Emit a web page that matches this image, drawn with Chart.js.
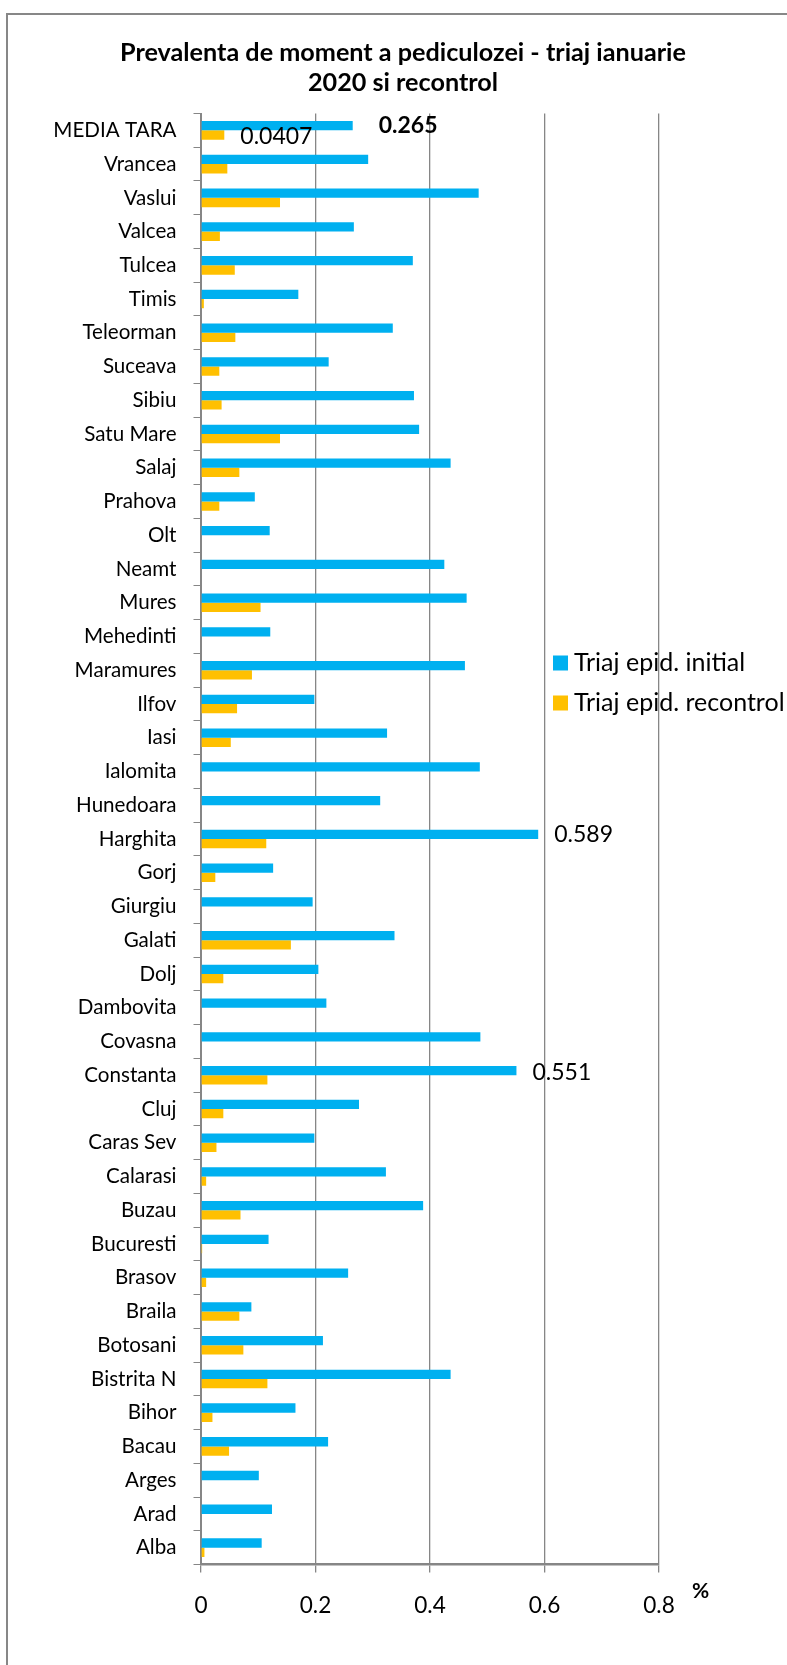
<!DOCTYPE html>
<html>
<head>
<meta charset="utf-8">
<script src="https://cdn.jsdelivr.net/npm/chart.js@4.4.1/dist/chart.umd.min.js"></script>
<style>
  html, body { margin: 0; padding: 0; background: #fff; }
  #wrap { position: relative; width: 787px; height: 1665px; overflow: hidden; }
  #frame { position: absolute; left: 6px; top: 13px; width: 1000px; height: 2000px; border: 2px solid #878787; }
  #chart { position: absolute; left: 0; top: 0; }
</style>
</head>
<body>
<div id="wrap">
  <div id="frame"></div>
  <canvas id="chart" width="787" height="1665"></canvas>
</div>
<script>
// counties, top to bottom
const counties = [
  "MEDIA TARA", "Vrancea", "Vaslui", "Valcea", "Tulcea", "Timis", "Teleorman",
  "Suceava", "Sibiu", "Satu Mare", "Salaj", "Prahova", "Olt", "Neamt", "Mures",
  "Mehedinti", "Maramures", "Ilfov", "Iasi", "Ialomita", "Hunedoara", "Harghita",
  "Gorj", "Giurgiu", "Galati", "Dolj", "Dambovita", "Covasna", "Constanta", "Cluj",
  "Caras Sev", "Calarasi", "Buzau", "Bucuresti", "Brasov", "Braila", "Botosani",
  "Bistrita N", "Bihor", "Bacau", "Arges", "Arad", "Alba"
];

// prevalence %, initial screening
const initial = [
  0.265, 0.292, 0.485, 0.267, 0.370, 0.170, 0.335,
  0.223, 0.372, 0.381, 0.436, 0.094, 0.120, 0.425, 0.464,
  0.121, 0.461, 0.198, 0.325, 0.487, 0.313, 0.589,
  0.126, 0.195, 0.338, 0.205, 0.219, 0.488, 0.551, 0.276,
  0.198, 0.323, 0.388, 0.118, 0.257, 0.088, 0.213,
  0.436, 0.165, 0.222, 0.101, 0.124, 0.106
];

// prevalence %, re-check (null = no re-check data)
const recontrol = [
  0.0407, 0.046, 0.138, 0.033, 0.059, 0.005, 0.060,
  0.032, 0.036, 0.138, 0.067, 0.032, null, null, 0.104,
  null, 0.089, 0.063, 0.052, null, null, 0.114,
  0.025, null, 0.157, 0.039, null, null, 0.116, 0.039,
  0.027, 0.009, 0.069, 0.002, 0.009, 0.067, 0.074,
  0.116, 0.020, 0.049, null, null, 0.006
];

const seriesNames = ["Triaj epid. initial", "Triaj epid. recontrol"];
const seriesColors = ["#00B0F0", "#FFC000"];
const titleLines = ["Prevalenta de moment a pediculozei - triaj ianuarie", "2020 si recontrol"];
const unitLabel = "%";

// which bars get a value label: [series, county index]
const labelledBars = [[0, 0], [1, 0], [0, 21], [0, 28]];

const FONT = "Lato";
const GRID = "#868686";

// title, legend, value labels and axis unit drawn on top of the chart
const extras = {
  id: "extras",
  afterDraw(chart, args, opts) {
    const ctx = chart.ctx;
    ctx.save();
    ctx.fillStyle = "#000";
    ctx.textBaseline = "middle";

    ctx.textAlign = "center";
    ctx.font = `bold ${opts.titleSize}px ${FONT}`;
    titleLines.forEach((line, i) => ctx.fillText(line, opts.titleX, opts.titleY + i * opts.titleGap));

    ctx.textAlign = "left";
    ctx.font = `${opts.legendSize}px ${FONT}`;
    seriesNames.forEach((name, i) => {
      const y = opts.legendY + i * opts.legendGap;
      ctx.fillStyle = seriesColors[i];
      ctx.fillRect(opts.legendX, y - 7.5, 15, 15);
      ctx.fillStyle = "#000";
      ctx.fillText(name, opts.legendX + 21, y);
    });

    labelledBars.forEach(([s, i], k) => {
      const bar = chart.getDatasetMeta(s).data[i];
      const value = chart.data.datasets[s].data[i];
      const st = opts.labelStyle[k];
      ctx.font = `${st.bold ? "bold " : ""}${opts.labelSize}px ${FONT}`;
      ctx.fillText(String(value), bar.x + st.dx, bar.y + (st.dy || 0));
    });

    ctx.font = `bold ${opts.unitSize}px ${FONT}`;
    ctx.fillText(unitLabel, opts.unitX, opts.unitY);
    ctx.restore();
  }
};

new Chart(document.getElementById("chart"), {
  type: "bar",
  data: {
    labels: counties,
    datasets: [
      { label: seriesNames[0], data: initial, backgroundColor: seriesColors[0] },
      { label: seriesNames[1], data: recontrol, backgroundColor: seriesColors[1] }
    ]
  },
  options: {
    indexAxis: "y",
    responsive: false,
    animation: false,
    devicePixelRatio: 1,
    layout: { padding: { top: 113.5, right: 128, bottom: 0, left: 0 } },
    datasets: { bar: { barPercentage: 1, categoryPercentage: 0.55, borderWidth: 0 } },
    scales: {
      y: {
        type: "category",
        afterFit(scale) { scale.width = 201; },
        grid: { drawOnChartArea: false, drawTicks: true, tickLength: 7.5, color: GRID, offset: true },
        border: { color: GRID, width: 2 },
        ticks: { color: "#000", font: { family: FONT, size: 20.6 }, padding: 17, autoSkip: false }
      },
      x: {
        type: "linear",
        min: 0,
        max: 0.8,
        afterFit(scale) { scale.height = 100.5; },
        grid: { color: GRID, lineWidth: 1.3, tickLength: 8 },
        border: { color: GRID, width: 2.5 },
        ticks: { stepSize: 0.2, color: "#000", font: { family: FONT, size: 22.6 }, padding: 20 }
      }
    },
    plugins: {
      legend: { display: false },
      title: { display: false },
      tooltip: { enabled: false },
      extras: {
        titleSize: 25.2, titleX: 403, titleY: 53, titleGap: 30,
        legendSize: 25, legendX: 553, legendY: 663, legendGap: 40,
        labelSize: 23,
        labelStyle: [
          { dx: 26, bold: true },
          { dx: 16, dy: 2 },
          { dx: 16 },
          { dx: 16, dy: 2 }
        ],
        unitSize: 21, unitX: 692, unitY: 1591
      }
    }
  },
  plugins: [extras]
});
</script>
</body>
</html>
